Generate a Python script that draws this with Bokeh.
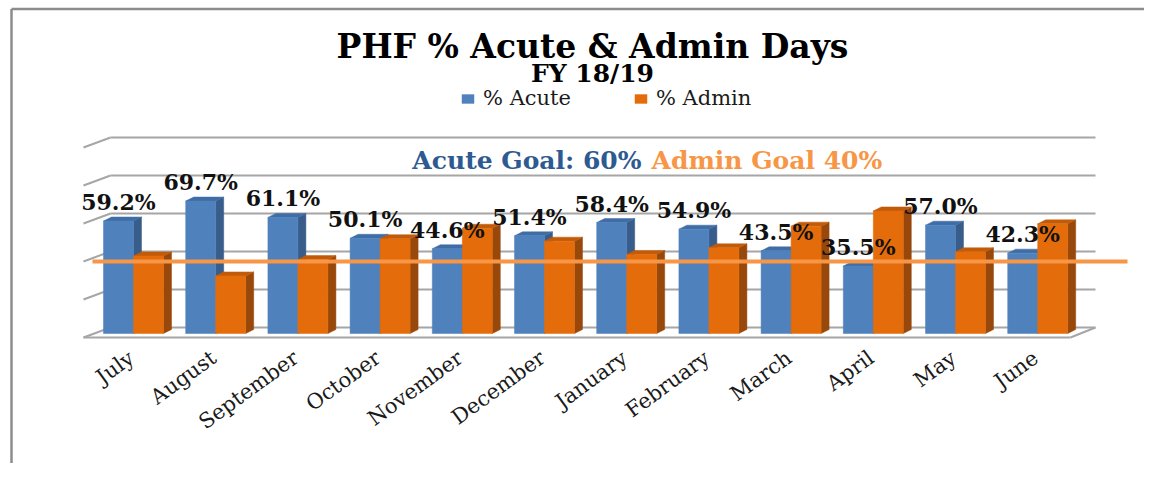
import math
from bokeh.plotting import figure
from bokeh.models import Range1d, Legend, LegendItem, ColumnDataSource
from bokeh.core.properties import value
from bokeh.embed import file_html
from bokeh.resources import INLINE

# ---------------- data ----------------
months = ["July", "August", "September", "October", "November", "December",
          "January", "February", "March", "April", "May", "June"]
acute = [59.2, 69.7, 61.1, 50.1, 44.6, 51.4, 58.4, 54.9, 43.5, 35.5, 57.0, 42.3]
admin = [40.8, 30.3, 38.9, 49.9, 55.4, 48.6, 41.6, 45.1, 56.5, 64.5, 43.0, 57.7]
grid_ticks = [0, 20, 40, 60, 80, 100]
acute_goal = 60
admin_goal = 40
series_names = ["% Acute", "% Admin"]
title_text = "PHF % Acute & Admin Days"
subtitle_text = "FY 18/19"

# ---------------- geometry / style ----------------
W, H = 1144, 463
PX_CAT = 82.2      # pixels per category
PX_PCT = 1.9       # pixels per percent
X0, Y0 = 133.0, 333.0   # screen position of category 0 / value 0
ORIGIN = 0.0

def X(px):
    return (px - X0) / PX_CAT

def Y(py):
    return (Y0 - py) / PX_PCT

def dx(px):
    return px / PX_CAT

def dy(px):
    return px / PX_PCT

xs0 = X(ORIGIN)
ye0 = Y(ORIGIN)
p = figure(width=W, height=H, output_backend="svg", toolbar_location=None,
           x_range=Range1d(xs0, xs0 + W / PX_CAT),
           y_range=Range1d(ye0 - H / PX_PCT, ye0),
           x_axis_location=None, y_axis_location=None,
           min_border=0, min_border_left=0, min_border_right=0,
           min_border_top=0, min_border_bottom=0)
p.outline_line_color = None
p.grid.visible = False
p.background_fill_color = "white"
p.border_fill_color = "white"

SERIF = value("DejaVu Serif")
GRID_C = "#A6A6A6"

# outer chart border (top & left visible in reference)
p.segment(x0=[X(11), X(11)], y0=[Y(8.5), Y(8.5)], x1=[X(11), X(1200)], y1=[Y(480), Y(8.5)],
          line_color="#8C8C8C", line_width=2.5)

# back wall gridlines + left side diagonals
n = len(months)
back_left, front_left = X(110), X(83)
back_right, front_right = X(1095), X(1070)
wall_up, wall_down = dy(6), dy(4)
gx0, gy0, gx1, gy1 = [], [], [], []
for g in grid_ticks:
    gx0 += [back_left, front_left]
    gy0 += [g + wall_up, g - wall_down]
    gx1 += [back_right, back_left]
    gy1 += [g + wall_up, g + wall_up]
# floor front edge and right diagonal
gx0 += [front_left, front_right]
gy0 += [-wall_down, -wall_down]
gx1 += [front_right, back_right]
gy1 += [-wall_down, wall_up]
p.segment(x0=gx0, y0=gy0, x1=gx1, y1=gy1, line_color=GRID_C, line_width=2)

# ---------------- 3D bars ----------------
bw = dx(30)
bdx, bdy = dx(8), dy(4)
series = [
    (acute, -bw / 2, "#4F81BD", "#385D8A", "#3F6DA6"),
    (admin, +bw / 2, "#E46C0A", "#98480A", "#C25B09"),
]
front_renderers = []
for vals, off, c_front, c_side, c_top in series:
    side_x, side_y, top_x, top_y = [], [], [], []
    centers = []
    for i, v in enumerate(vals):
        xc = i + off
        centers.append(xc)
        l, r = xc - bw / 2, xc + bw / 2
        side_x.append([r, r + bdx, r + bdx, r])
        side_y.append([0, bdy, v + bdy, v])
        top_x.append([l, l + bdx, r + bdx, r])
        top_y.append([v, v + bdy, v + bdy, v])
    p.patches(side_x, side_y, fill_color=c_side, line_color=c_side, line_width=0.5)
    p.patches(top_x, top_y, fill_color=c_top, line_color=c_top, line_width=0.5)
    rf = p.vbar(x=centers, width=bw, bottom=0, top=vals, fill_color=c_front,
                line_color=c_front, line_width=0.5)
    front_renderers.append(rf)

# goal line (admin goal, drawn on the front plane)
p.segment(x0=[X(92)], y0=[admin_goal - wall_down], x1=[X(1127)], y1=[admin_goal - wall_down],
          line_color="#F79646", line_width=4)

# data labels for % Acute
lab_src = ColumnDataSource(dict(
    x=[i - bw / 2 for i in range(n)],
    y=[v + dy(19) for v in acute],
    t=[f"{v:.1f}%" for v in acute]))
p.text(x="x", y="y", text="t", source=lab_src, text_font=SERIF, text_font_style="bold",
       text_font_size="22px", text_align="center", text_baseline="middle",
       text_color="#111111")

# month labels (rotated)
mon_src = ColumnDataSource(dict(x=[i + dx(-2) for i in range(n)],
                                y=[Y(355)] * n, t=months))
p.text(x="x", y="y", text="t", source=mon_src, text_font=SERIF, text_font_size="21px",
       text_align="right", text_baseline="middle", angle=math.radians(36),
       text_color="#1a1a1a")

# titles
p.text(x=[X(592)], y=[Y(46)], text=[title_text], text_font=SERIF, text_font_style="bold",
       text_font_size="33px", text_align="center", text_baseline="alphabetic",
       text_color="#000000")
p.text(x=[X(592)], y=[Y(73)], text=[subtitle_text], text_font=SERIF, text_font_style="bold",
       text_font_size="25px", text_align="center", text_baseline="alphabetic",
       text_color="#000000")

# goal annotation
p.text(x=[X(641)], y=[Y(160)], text=[f"Acute Goal: {acute_goal}%"], text_font=SERIF,
       text_font_style="bold", text_font_size="25px", text_align="right",
       text_baseline="alphabetic", text_color="#2C5A91")
p.text(x=[X(651)], y=[Y(160)], text=[f"Admin Goal {admin_goal}%"], text_font=SERIF,
       text_font_style="bold", text_font_size="25px", text_align="left",
       text_baseline="alphabetic", text_color="#F79646")

# legend
legend = Legend(items=[LegendItem(label=series_names[0], renderers=[front_renderers[0]]),
                       LegendItem(label=series_names[1], renderers=[front_renderers[1]])],
                orientation="horizontal", location=(460, H - 110),
                glyph_width=15, glyph_height=11, label_standoff=8, spacing=62,
                padding=0, margin=0, border_line_color=None, background_fill_alpha=0,
                label_text_font="DejaVu Serif", label_text_font_size="21px",
                label_text_color="#1a1a1a")
p.add_layout(legend, "center")

open("out.html", "w").write(file_html(p, INLINE))
